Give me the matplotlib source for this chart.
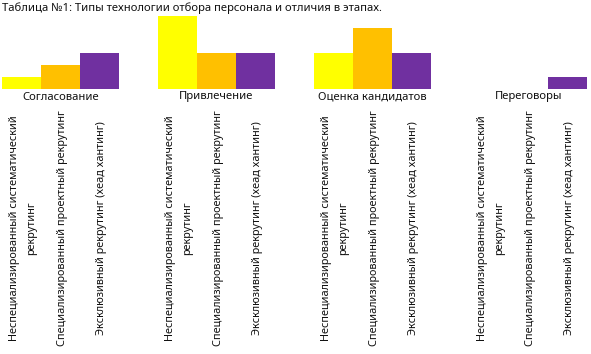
import matplotlib
matplotlib.use('Agg')
import matplotlib.pyplot as plt
import matplotlib.transforms as mtransforms
import numpy as np

plt.rcParams['font.family'] = ['Noto Sans', 'DejaVu Sans']

# data
stages = ['Согласование', 'Привлечение', 'Оценка кандидатов', 'Переговоры']
types = ['Неспециализированный систематический\nрекрутинг',
         'Специализированный проектный рекрутинг',
         'Эксклюзивный рекрутинг (хеад хантинг)']
nonspec = [1, 6, 3, 0]
spec = [2, 3, 5, 0]
exclusive = [3, 3, 3, 1]
colors = ['#FFFF00', '#FFC000', '#7030A0']
title = 'Таблица №1: Типы технологии отбора персонала и отличия в этапах.'

W, H = 591, 354
fig = plt.figure(figsize=(W / 100, H / 100), dpi=100)
# axes placed in pixels: x 2..587, baseline y=89, top (value 6) y=16
ax = fig.add_axes([2 / W, 1 - 89 / H, 585 / W, 73 / H])

series = [nonspec, spec, exclusive]
for i, vals in enumerate(series):
    x = np.arange(len(stages)) * 4 + i
    ax.bar(x, vals, width=1.0, color=colors[i], linewidth=0)

ax.set_xlim(-0.5, 14.5)
ax.set_ylim(0, 6)
ax.axis('off')

trans = mtransforms.blended_transform_factory(ax.transData, fig.transFigure)

fig.text(2 / W, 1 - 8 / H, title, fontsize=8.1, ha='left', va='center', color='#111111')

for g, st in enumerate(stages):
    ax.text(g * 4 + 1, 1 - 97 / H, st, transform=trans, fontsize=8.1,
            ha='center', va='center', color='#111111')
    for i, t in enumerate(types):
        ax.text(g * 4 + i + 0.04, 1 - 228 / H, t, transform=trans, fontsize=7.85,
                rotation=90, ha='center', va='center', multialignment='center',
                linespacing=1.85, color='#111111')

fig.savefig('out.png', dpi=100)
